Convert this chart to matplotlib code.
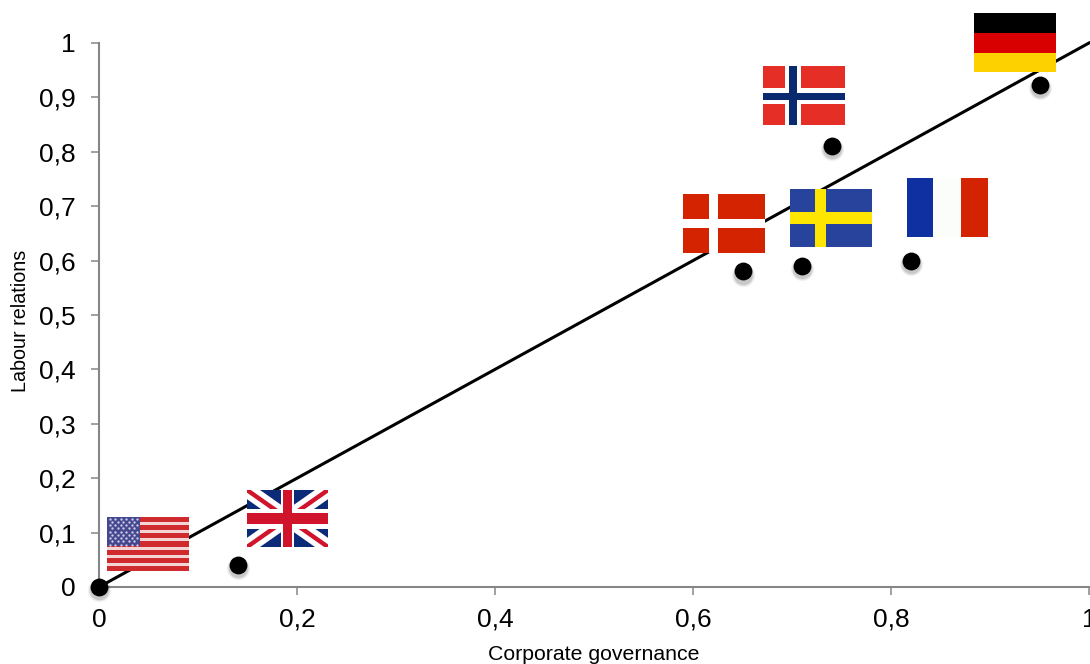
import numpy as np
import matplotlib
matplotlib.use('Agg')
import matplotlib.pyplot as plt
from matplotlib.patches import Rectangle, Polygon
from matplotlib.transforms import offset_copy

plt.rcParams['font.family'] = ['Liberation Sans', 'DejaVu Sans']

# data
countries = ['USA', 'UK', 'Denmark', 'Sweden', 'France', 'Norway', 'Germany']
governance = [0, 0.14, 0.65, 0.71, 0.82, 0.74, 0.95]
labour = [0, 0.04, 0.58, 0.59, 0.60, 0.81, 0.922]
trend_x = [0, 1]
trend_y = [0, 1]
x_ticks = [0, 0.2, 0.4, 0.6, 0.8, 1]
x_labels = ['0', '0,2', '0,4', '0,6', '0,8', '1']
y_ticks = [0, 0.1, 0.2, 0.3, 0.4, 0.5, 0.6, 0.7, 0.8, 0.9, 1]
y_labels = ['0', '0,1', '0,2', '0,3', '0,4', '0,5', '0,6', '0,7', '0,8', '0,9', '1']

W, H = 1090, 664
fig = plt.figure(figsize=(W / 100, H / 100), dpi=100)
ax = fig.add_axes([99 / W, 1 - 587 / H, 990 / W, 544 / H])

ax.plot(trend_x, trend_y, color='black', lw=2.2, clip_on=False, zorder=2)

# soft shadow under the dots
shadow = offset_copy(ax.transData, fig=fig, x=0, y=-2.2, units='points')
for size, alpha in [(300, 0.02), (270, 0.03), (240, 0.04), (210, 0.06), (185, 0.08)]:
    ax.scatter(governance, labour, s=size, color='black', alpha=alpha, linewidths=0,
               transform=shadow, clip_on=False, zorder=3)
ax.scatter(governance, labour, s=165, color='black', linewidths=0, clip_on=False, zorder=4)

ax.set_xlim(0, 1)
ax.set_ylim(0, 1)
ax.set_xticks(x_ticks)
ax.set_xticklabels(x_labels)
ax.set_yticks(y_ticks)
ax.set_yticklabels(y_labels)
ax.tick_params(axis='both', length=6, width=1.1, color='#868686', labelsize=19, labelcolor='black')
ax.tick_params(axis='x', pad=9)
ax.tick_params(axis='y', pad=11)
ax.spines['top'].set_visible(False)
ax.spines['right'].set_visible(False)
ax.spines['left'].set_color('#868686')
ax.spines['bottom'].set_color('#868686')
ax.spines['left'].set_linewidth(1.5)
ax.spines['bottom'].set_linewidth(1.5)

fig.text(594 / W, 1 - 654 / H, 'Corporate governance', ha='center', va='center', fontsize=15.3)
fig.text(21 / W, 1 - 321 / H, 'Labour relations', ha='center', va='center', rotation=90, fontsize=14.2)

# overlay in pixel coordinates for the flag pictures
over = fig.add_axes([0, 0, 1, 1], zorder=5)
over.set_xlim(0, W)
over.set_ylim(H, 0)
over.axis('off')


def bar(box, x0, x1, y0, y1, color):
    l, t, w, h = box
    r = Rectangle((l + x0 * w, t + y0 * h), (x1 - x0) * w, (y1 - y0) * h, color=color, lw=0)
    over.add_patch(r)
    return r


def cross(box, vx, hy, color):
    bar(box, vx[0], vx[1], 0, 1, color)
    bar(box, 0, 1, hy[0], hy[1], color)


# flag boxes: left, top, width, height
box_us = (107, 517, 82, 54)
box_uk = (247, 490, 81, 57)
box_dk = (683, 194, 82, 59)
box_se = (790, 189, 82, 58)
box_fr = (907, 178, 81, 59)
box_no = (763, 66, 82, 59)
box_de = (974, 13, 82, 59)

# USA
bar(box_us, 0, 1, 0, 1, '#f3d5d6')
for i in range(0, 13, 2):
    bar(box_us, 0, 1, (i - 0.12) / 13, (i + 1.12) / 13, '#cf2a2e')
bar(box_us, 0, 0.4, 0, 0.54, '#45478f')
l, t, w, h = box_us
for row in range(9):
    for col in range(6 if row % 2 == 0 else 5):
        sx = l + w * 0.4 * (col + (0.5 if row % 2 == 0 else 1)) / 6
        sy = t + h * 0.54 * (row + 0.5) / 9
        over.plot(sx, sy, 'o', ms=1.7, color='#c9cbe8', mew=0)

# UK
bar(box_uk, 0, 1, 0, 1, '#0b2a78')
l, t, w, h = box_uk
clip = Rectangle((l, t), w, h, transform=over.transData)
for (x0, y0, x1, y1) in [(l, t, l + w, t + h), (l, t + h, l + w, t)]:
    nx, ny = -(y1 - y0), x1 - x0
    n = np.hypot(nx, ny)
    nx, ny = nx / n, ny / n
    for half, color in [(7.5, 'white'), (2.2, '#cf142b')]:
        corners = [(x0 + nx * half, y0 + ny * half), (x1 + nx * half, y1 + ny * half),
                   (x1 - nx * half, y1 - ny * half), (x0 - nx * half, y0 - ny * half)]
        p = Polygon(corners, color=color, lw=0)
        over.add_patch(p)
        p.set_clip_path(clip)
cross(box_uk, (0.415, 0.585), (0.34, 0.68), 'white')
cross(box_uk, (0.45, 0.55), (0.41, 0.60), '#cf142b')

# Denmark
bar(box_dk, 0, 1, 0, 1, '#d42300')
cross(box_dk, (0.32, 0.43), (0.43, 0.57), 'white')

# Sweden
bar(box_se, 0, 1, 0, 1, '#27439b')
cross(box_se, (0.31, 0.44), (0.40, 0.61), '#ffe600')

# France
bar(box_fr, 0, 0.325, 0, 1, '#0f30a0')
bar(box_fr, 0.325, 0.665, 0, 1, '#fbfdfb')
bar(box_fr, 0.665, 1, 0, 1, '#d42300')

# Norway
bar(box_no, 0, 1, 0, 1, '#e52e26')
cross(box_no, (0.27, 0.46), (0.38, 0.65), 'white')
cross(box_no, (0.32, 0.41), (0.46, 0.58), '#0a2a70')

# Germany
bar(box_de, 0, 1, 0, 0.335, 'black')
bar(box_de, 0, 1, 0.335, 0.675, '#d80000')
bar(box_de, 0, 1, 0.675, 1, '#fdd000')

fig.savefig('out.png', dpi=100)
